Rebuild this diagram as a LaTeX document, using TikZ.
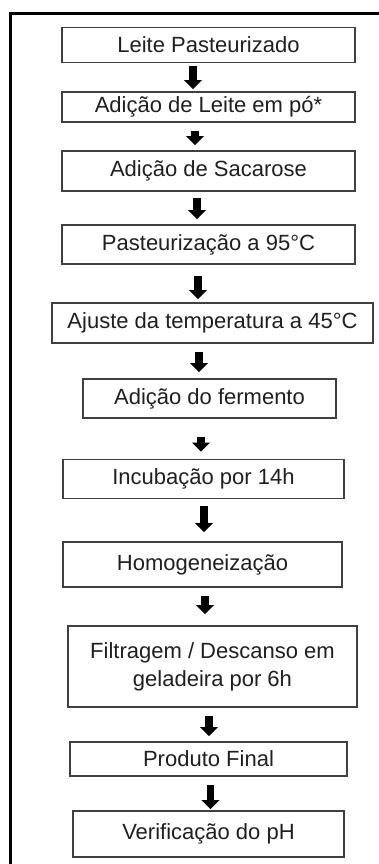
\documentclass[tikz,border=0pt]{standalone}
\usepackage{fontspec}
\setmainfont{Liberation Sans}
\usetikzlibrary{arrows.meta}
\tikzset{
  etapa/.style={draw=black!75,line width=0.8pt,inner sep=0pt,align=center,text=black!88,font=\fontsize{11}{14}\selectfont},
  seta/.style={line width=3.6pt,-{Triangle[width=8.75pt,length=4.5pt]}},
}
\begin{document}
\begin{tikzpicture}[x=0.5pt,y=-0.5pt]
    \useasboundingbox (0,0) rectangle (379,864);
    \draw[line width=1.5pt] (10,864) -- (10,13) -- (379,13);
    \node[etapa,minimum width=146.5pt,minimum height=17.5pt] (leite) at (208.5,45) {Leite Pasteurizado};
    \node[etapa,minimum width=146.5pt,minimum height=15pt] (po) at (208.5,107) {Adição de Leite em pó*};
    \node[etapa,minimum width=146.5pt,minimum height=20pt] (sacarose) at (208.5,171) {Adição de Sacarose};
    \node[etapa,minimum width=146.5pt,minimum height=19.5pt] (past) at (208.5,244.5) {Pasteurização a 95°C};
    \node[etapa,minimum width=160.5pt,minimum height=20pt] (ajuste) at (212.5,323) {Ajuste da temperatura a 45°C};
    \node[etapa,minimum width=126.5pt,minimum height=19.5pt] (fermento) at (209.5,398.5) {Adição do fermento};
    \node[etapa,minimum width=140.5pt,minimum height=19.5pt] (incub) at (203.5,479) {Incubação por 14h};
    \node[etapa,minimum width=139.5pt,minimum height=22.5pt] (homog) at (202.5,564.5) {Homogeneização};
    \node[etapa,minimum width=144.5pt,minimum height=40.5pt] (filtr) at (212.5,666.5) {Filtragem / Descanso em\\geladeira por 6h};
    \node[etapa,minimum width=138.5pt,minimum height=17pt] (final) at (208.5,759) {Produto Final};
    \node[etapa,minimum width=135.5pt,minimum height=23pt] (ph) at (208.5,834) {Verificação do pH};
    % setas entre as etapas
    \draw[seta,shorten <=1.5pt,shorten >=1pt] (leite.south -| 193,0) -- (po.north -| 193,0);
    \draw[seta,shorten <=4pt,shorten >=2.5pt] (po.south -| 195,0) -- (sacarose.north -| 195,0);
    \draw[seta,shorten <=3pt,shorten >=2.5pt] (sacarose.south -| 197,0) -- (past.north -| 197,0);
    \draw[seta,shorten <=5.5pt,shorten >=1.5pt] (past.south -| 198,0) -- (ajuste.north -| 198,0);
    \draw[seta,shorten <=4pt,shorten >=3pt] (ajuste.south -| 199,0) -- (fermento.north -| 199,0);
    \draw[seta,shorten <=9pt,shorten >=3.5pt] (fermento.south -| 201,0) -- (incub.north -| 201,0);
    \draw[seta,shorten <=3.5pt,shorten >=4.5pt] (incub.south -| 204,0) -- (homog.north -| 204,0);
    \draw[seta,shorten <=4pt,shorten >=5.5pt] (homog.south -| 205,0) -- (filtr.north -| 205,0);
    \draw[seta,shorten <=4pt,shorten >=2.5pt] (filtr.south -| 209,0) -- (final.north -| 209,0);
    \draw[seta,shorten <=4pt,shorten >=0.5pt] (final.south -| 210.5,0) -- (ph.north -| 210.5,0);
\end{tikzpicture}
\end{document}
